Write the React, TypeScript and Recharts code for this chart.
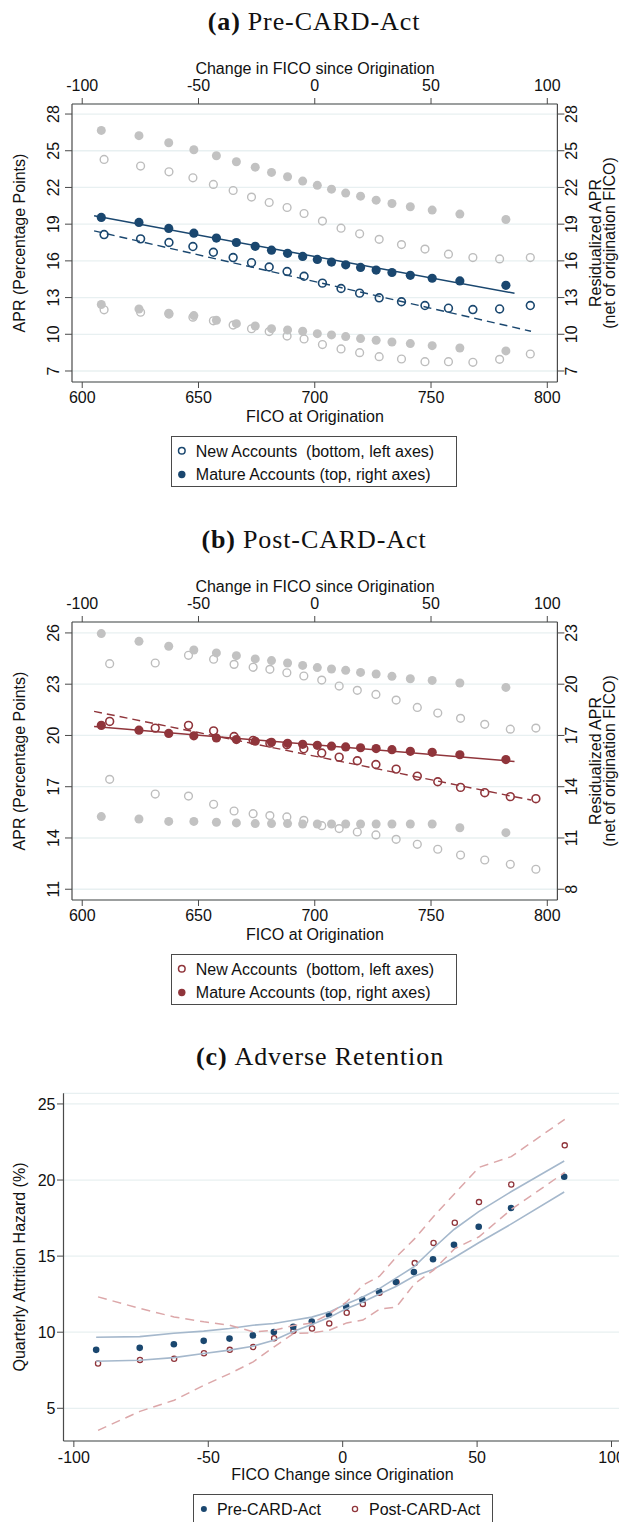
import React from "react";
import { ScatterChart, Scatter, XAxis, YAxis, CartesianGrid, Label } from "recharts";

// ---- (a) Pre-CARD-Act ----
const A_NEW_FICO = [609.4, 625.1, 637.3, 647.6, 656.4, 664.9, 672.8, 680.4, 688.1, 695.4, 703.3, 711.3, 719.3, 727.7, 737.3, 747.4, 757.5, 768, 779.5, 792.7];
const A_NEW_APR = [18.15, 17.8, 17.5, 17.17, 16.7, 16.27, 15.85, 15.5, 15.13, 14.74, 14.18, 13.74, 13.36, 12.98, 12.66, 12.35, 12.13, 12.02, 12.07, 12.35];
const A_NEW_HI = [24.29, 23.75, 23.28, 22.79, 22.25, 21.75, 21.21, 20.77, 20.36, 19.87, 19.25, 18.67, 18.21, 17.76, 17.33, 16.96, 16.55, 16.27, 16.16, 16.27];
const A_NEW_LO = [12.0, 11.8, 11.65, 11.4, 11.1, 10.75, 10.45, 10.22, 9.85, 9.62, 9.16, 8.8, 8.5, 8.17, 7.98, 7.76, 7.76, 7.71, 7.95, 8.39];
const A_NEW_FIT_FICO = [605.1, 793];
const A_NEW_FIT_APR = [18.45, 10.25];

const MAT_CHG = [-91.8, -75.6, -62.8, -52, -42.3, -33.7, -25.6, -18.6, -11.7, -5.2, 1.1, 7.2, 13.3, 19.7, 26.4, 33.2, 41.1, 50.5, 62.4, 82.2];
const A_MAT_APR = [19.55, 19.14, 18.65, 18.26, 17.86, 17.5, 17.19, 16.87, 16.62, 16.36, 16.12, 15.9, 15.68, 15.46, 15.25, 15.05, 14.82, 14.58, 14.36, 14.0];
const A_MAT_HI = [26.66, 26.23, 25.65, 25.08, 24.59, 24.1, 23.66, 23.23, 22.87, 22.52, 22.17, 21.86, 21.54, 21.29, 20.96, 20.69, 20.42, 20.15, 19.82, 19.38];
const A_MAT_LO = [12.43, 12.07, 11.72, 11.53, 11.15, 10.87, 10.68, 10.46, 10.36, 10.25, 10.05, 9.95, 9.81, 9.65, 9.51, 9.37, 9.24, 9.07, 8.88, 8.64];
const MAT_FIT_CHG = [-94.9, 85.9];
const A_MAT_FIT_APR = [19.68, 13.35];

// ---- (b) Post-CARD-Act ----
const B_NEW_FICO = [611.8, 631.4, 645.7, 656.5, 665.3, 673.5, 680.7, 688, 695.3, 703, 710.5, 718.3, 726.3, 735, 744.1, 752.9, 762.7, 773.1, 784.1, 795.1];
const B_NEW_APR = [20.82, 20.43, 20.59, 20.27, 19.94, 19.71, 19.55, 19.46, 19.22, 18.97, 18.73, 18.52, 18.3, 18.03, 17.62, 17.29, 16.96, 16.65, 16.42, 16.3];
const B_NEW_HI = [24.2, 24.24, 24.69, 24.46, 24.16, 23.99, 23.87, 23.67, 23.48, 23.24, 22.89, 22.64, 22.4, 22.07, 21.64, 21.31, 21.0, 20.65, 20.37, 20.43];
const B_NEW_LO = [17.43, 16.57, 16.45, 15.97, 15.58, 15.42, 15.31, 15.23, 15.03, 14.72, 14.55, 14.35, 14.18, 13.92, 13.63, 13.34, 13.0, 12.71, 12.46, 12.17];
const B_NEW_FIT_FICO = [605.1, 793];
const B_NEW_FIT_APR = [21.41, 16.22];

const B_MAT_APR = [17.59, 17.31, 17.12, 16.98, 16.85, 16.76, 16.66, 16.6, 16.54, 16.48, 16.42, 16.37, 16.33, 16.28, 16.23, 16.17, 16.07, 16.01, 15.87, 15.59];
const B_MAT_HI = [22.96, 22.51, 22.22, 22.0, 21.83, 21.67, 21.48, 21.38, 21.24, 21.1, 20.97, 20.89, 20.81, 20.69, 20.6, 20.46, 20.32, 20.22, 20.07, 19.81];
const B_MAT_LO = [12.25, 12.11, 11.97, 11.97, 11.92, 11.88, 11.84, 11.84, 11.84, 11.82, 11.82, 11.82, 11.82, 11.82, 11.82, 11.82, 11.82, 11.82, 11.6, 11.31];
const B_MAT_FIT_APR = [17.53, 15.48];

// ---- (c) Adverse Retention ----
const C_PRE_CHG = [-91.7, -75.5, -62.8, -51.7, -42.1, -33.4, -25.6, -18.4, -11.5, -5.1, 1.3, 7.3, 13.5, 19.8, 26.5, 33.6, 41.4, 50.6, 62.6, 82.4];
const C_PRE_HAZ = [8.84, 8.97, 9.21, 9.43, 9.58, 9.79, 10.01, 10.36, 10.7, 11.15, 11.68, 12.13, 12.68, 13.3, 13.95, 14.79, 15.75, 16.93, 18.16, 20.22];
const C_PRE_HI = [9.67, 9.71, 9.93, 10.07, 10.24, 10.46, 10.57, 10.79, 10.99, 11.32, 11.85, 12.3, 12.85, 13.55, 14.3, 15.5, 16.75, 17.92, 19.23, 21.25];
const C_PRE_LO = [8.09, 8.16, 8.33, 8.6, 8.82, 9.08, 9.47, 10.04, 10.5, 10.96, 11.54, 11.97, 12.5, 13.0, 13.68, 14.12, 14.89, 15.88, 17.1, 19.21];

const C_POST_CHG = [-91.0, -75.4, -62.7, -51.6, -42.0, -33.3, -25.5, -18.3, -11.4, -5.0, 1.5, 7.5, 13.7, 20.0, 26.8, 33.8, 41.7, 50.7, 62.7, 82.6];
const C_POST_HAZ = [7.94, 8.18, 8.25, 8.62, 8.84, 9.02, 9.61, 10.09, 10.24, 10.58, 11.28, 11.86, 12.59, 13.29, 14.54, 15.87, 17.19, 18.55, 19.71, 22.28];
const C_POST_HI = [12.32, 11.56, 11.0, 10.68, 10.46, 10.02, 10.13, 10.44, 10.61, 11.2, 12.0, 13.09, 13.68, 14.96, 16.15, 17.6, 19.12, 20.83, 21.54, 23.99];
const C_POST_LO = [3.55, 4.8, 5.53, 6.51, 7.28, 8.05, 9.04, 9.91, 9.96, 10.13, 10.61, 10.8, 11.51, 11.66, 13.2, 14.08, 15.5, 16.27, 18.07, 20.5];

const FICO_TICKS = [600, 650, 700, 750, 800];
const CHG_TICKS = [-100, -50, 0, 50, 100];
const A_APR_TICKS = [7, 10, 13, 16, 19, 22, 25, 28];
const B_LEFT_TICKS = [11, 14, 17, 20, 23, 26];
const B_RIGHT_TICKS = [8, 11, 14, 17, 20, 23];
const C_HAZ_TICKS = [5, 10, 15, 20, 25];

const NAVY = "#1a476f";
const MAROON = "#90353b";
const GRAY_FILL = "#c2c2c2";
const GRAY_RING = "#bdbdbd";
const BAND_BLUE = "#a5b8cc";
const BAND_RED = "#dca7a9";
const GRID = "#e8f0f1";
const AXIS = "#4a4a4a";
const INK = "#111";
const SANS = "'Liberation Sans', Arial, sans-serif";
const SERIF = "'Liberation Serif', 'Times New Roman', serif";

type Pt = { x: number; y: number };
const pts = (xs: number[], ys: number[]): Pt[] => xs.map((x, i) => ({ x, y: ys[i] }));

const dot = (r: number, fill: string) => (p: any) => <circle cx={p.cx} cy={p.cy} r={r} fill={fill} />;
const ring = (r: number, stroke: string, w: number) => (p: any) => (
  <circle cx={p.cx} cy={p.cy} r={r} fill="none" stroke={stroke} strokeWidth={w} />
);
const noMark = () => <g />;

// horizontal tick label with a fixed baseline
const hTick = (by: number) => (p: any) => (
  <text x={p.x} y={by} textAnchor="middle" fontSize={16} fontFamily={SANS} fill={INK}>
    {p.payload.value}
  </text>
);
// vertical (rotated) tick label, bx is the baseline x
const vTick = (bx: number) => (p: any) => (
  <text x={bx} y={p.y} transform={`rotate(-90 ${bx} ${p.y})`} textAnchor="middle" fontSize={16} fontFamily={SANS} fill={INK}>
    {p.payload.value}
  </text>
);
const yTickRight = (ex: number) => (p: any) => (
  <text x={ex} y={p.y + 5.75} textAnchor="end" fontSize={16} fontFamily={SANS} fill={INK}>
    {p.payload.value}
  </text>
);
const vText = (bx: number, cy: number, s: string) => (
  <text x={bx} y={cy} transform={`rotate(-90 ${bx} ${cy})`} textAnchor="middle" fontSize={16} fontFamily={SANS} fill={INK}>
    {s}
  </text>
);
const hText = (cx: number, by: number, s: string) => (
  <text x={cx} y={by} textAnchor="middle" fontSize={16} fontFamily={SANS} fill={INK}>
    {s}
  </text>
);

type DualProps = {
  color: string;
  leftDomain: [number, number];
  rightDomain: [number, number];
  leftTicks: number[];
  rightTicks: number[];
  newPts: Pt[];
  newHi: Pt[];
  newLo: Pt[];
  newFit: Pt[];
  matPts: Pt[];
  matHi: Pt[];
  matLo: Pt[];
  matFit: Pt[];
};

const AXIS_LINE = { stroke: AXIS, strokeWidth: 1.2 };
const TICK_LINE = { stroke: AXIS, strokeWidth: 1 };

function DualPanel(p: DualProps) {
  const midY = 203;
  return (
    <ScatterChart width={619} height={392} margin={{ top: 0, right: 0, bottom: 0, left: 0 }}>
      <CartesianGrid vertical={false} stroke={GRID} strokeWidth={1.3} xAxisId="bottom" yAxisId="left" />
      <XAxis xAxisId="bottom" orientation="bottom" dataKey="x" type="number" domain={[595.6, 804.35]} allowDataOverflow
        ticks={FICO_TICKS} interval={0} height={50} axisLine={AXIS_LINE} tickLine={TICK_LINE} tickSize={6} tick={hTick(363)}>
        <Label content={() => hText(315, 381.5, "FICO at Origination")} />
      </XAxis>
      <XAxis xAxisId="top" orientation="top" dataKey="x" type="number" domain={[-104.4, 104.35]} allowDataOverflow
        ticks={CHG_TICKS} interval={0} height={64} axisLine={AXIS_LINE} tickLine={TICK_LINE} tickSize={6} tick={hTick(51)}>
        <Label content={() => hText(315, 33.5, "Change in FICO since Origination")} />
      </XAxis>
      <YAxis yAxisId="left" dataKey="y" type="number" domain={p.leftDomain} allowDataOverflow ticks={p.leftTicks} interval={0}
        width={72} axisLine={AXIS_LINE} tickLine={TICK_LINE} tickSize={7} tick={vTick(59.3)}>
        <Label content={() => vText(24.5, midY, "APR (Percentage Points)")} />
      </YAxis>
      <YAxis yAxisId="right" orientation="right" dataKey="y" type="number" domain={p.rightDomain} allowDataOverflow ticks={p.rightTicks}
        interval={0} width={61.6} axisLine={AXIS_LINE} tickLine={TICK_LINE} tickSize={7} tick={vTick(577.2)}>
        <Label content={() => (
          <g>
            {vText(600.5, midY, "Residualized APR")}
            {vText(615, midY, "(net of origination FICO)")}
          </g>
        )} />
      </YAxis>

      <Scatter xAxisId="bottom" yAxisId="left" data={p.newHi} shape={ring(3.9, GRAY_RING, 1.4)} isAnimationActive={false} />
      <Scatter xAxisId="bottom" yAxisId="left" data={p.newLo} shape={ring(3.9, GRAY_RING, 1.4)} isAnimationActive={false} />
      <Scatter xAxisId="top" yAxisId="right" data={p.matHi} shape={dot(4.5, GRAY_FILL)} isAnimationActive={false} />
      <Scatter xAxisId="top" yAxisId="right" data={p.matLo} shape={dot(4.5, GRAY_FILL)} isAnimationActive={false} />

      <Scatter xAxisId="bottom" yAxisId="left" data={p.newFit} shape={noMark}
        line={{ stroke: p.color, strokeWidth: 1.4, strokeDasharray: "8 5" }} isAnimationActive={false} />
      <Scatter xAxisId="top" yAxisId="right" data={p.matFit} shape={noMark}
        line={{ stroke: p.color, strokeWidth: 1.5 }} isAnimationActive={false} />

      <Scatter xAxisId="bottom" yAxisId="left" data={p.newPts} shape={ring(3.9, p.color, 1.6)} isAnimationActive={false} />
      <Scatter xAxisId="top" yAxisId="right" data={p.matPts} shape={dot(4.6, p.color)} isAnimationActive={false} />
    </ScatterChart>
  );
}

function RetentionPanel() {
  return (
    <ScatterChart width={624} height={411} margin={{ top: 13.3, right: 2, bottom: 0, left: 0 }}>
      <CartesianGrid vertical={false} stroke={GRID} strokeWidth={1.3} />
      <XAxis dataKey="x" type="number" domain={[-103.85, 103.9]} allowDataOverflow ticks={CHG_TICKS} interval={0} height={50}
        axisLine={AXIS_LINE} tickLine={TICK_LINE} tickSize={6} tick={hTick(382.5)}>
        <Label content={() => hText(342.5, 399.8, "FICO Change since Origination")} />
      </XAxis>
      <YAxis dataKey="y" type="number" domain={[2.85, 25.7]} allowDataOverflow ticks={C_HAZ_TICKS} interval={0} width={63.5}
        axisLine={AXIS_LINE} tickLine={TICK_LINE} tickSize={6.5} tick={yTickRight(55.5)}>
        <Label content={() => vText(24.5, 187, "Quarterly Attrition Hazard (%)")} />
      </YAxis>

      <Scatter data={pts(C_POST_CHG, C_POST_HAZ)} shape={ring(2.6, MAROON, 1.3)} isAnimationActive={false} />
      <Scatter data={pts(C_PRE_CHG, C_PRE_HAZ)} shape={dot(3.3, NAVY)} isAnimationActive={false} />

      <Scatter data={pts(C_PRE_CHG, C_PRE_HI)} shape={noMark} line={{ stroke: BAND_BLUE, strokeWidth: 1.6 }} isAnimationActive={false} />
      <Scatter data={pts(C_PRE_CHG, C_PRE_LO)} shape={noMark} line={{ stroke: BAND_BLUE, strokeWidth: 1.6 }} isAnimationActive={false} />
      <Scatter data={pts(C_POST_CHG, C_POST_HI)} shape={noMark}
        line={{ stroke: BAND_RED, strokeWidth: 1.5, strokeDasharray: "9 6" }} isAnimationActive={false} />
      <Scatter data={pts(C_POST_CHG, C_POST_LO)} shape={noMark}
        line={{ stroke: BAND_RED, strokeWidth: 1.5, strokeDasharray: "9 6" }} isAnimationActive={false} />
    </ScatterChart>
  );
}

function PanelTitle({ top, tag, text, cx }: { top: number; tag: string; text: string; cx: number }) {
  return (
    <svg style={{ position: "absolute", left: 0, top }} width={619} height={40}>
      <text x={cx} y={30} textAnchor="middle" fontFamily={SERIF} fontSize={26} letterSpacing={0.9} fill={INK}>
        <tspan fontWeight="bold">{tag}</tspan>
        <tspan dx={7}>{text}</tspan>
      </text>
    </svg>
  );
}

function AccountsLegend({ top, color }: { top: number; color: string }) {
  return (
    <div style={{ position: "absolute", left: 170.7, top, width: 286, height: 51.3, border: `1px solid ${AXIS}`, boxSizing: "border-box" }}>
      <svg width={284} height={50} style={{ display: "block" }}>
        <circle cx={9.8} cy={13.8} r={3.3} fill="none" stroke={color} strokeWidth={1.5} />
        <text x={23.8} y={19.5} fontSize={16} fontFamily={SANS} fill={INK} style={{ whiteSpace: "pre" }}>
          {"New Accounts  (bottom, left axes)"}
        </text>
        <circle cx={9.8} cy={37.5} r={3.7} fill={color} />
        <text x={23.8} y={43.2} fontSize={16} fontFamily={SANS} fill={INK}>
          Mature Accounts (top, right axes)
        </text>
      </svg>
    </div>
  );
}

function RetentionLegend() {
  return (
    <div style={{ position: "absolute", left: 193.3, top: 1494, width: 300, height: 40, border: `1px solid ${AXIS}`, boxSizing: "border-box" }}>
      <svg width={298} height={38} style={{ display: "block" }}>
        <circle cx={9.9} cy={14} r={3} fill={NAVY} />
        <text x={22.9} y={19.7} fontSize={16} fontFamily={SANS} fill={INK}>Pre-CARD-Act</text>
        <circle cx={161} cy={14} r={2.6} fill="none" stroke={MAROON} strokeWidth={1.3} />
        <text x={175} y={19.7} fontSize={16} fontFamily={SANS} fill={INK}>Post-CARD-Act</text>
      </svg>
    </div>
  );
}

export default function App() {
  return (
    <div style={{ position: "absolute", left: 0, top: 0, width: 619, height: 1522, overflow: "hidden", background: "#fff" }}>
      <PanelTitle top={0} tag="(a)" text="Pre-CARD-Act" cx={314} />
      <div style={{ position: "absolute", left: 0, top: 40 }}>
        <DualPanel
          color={NAVY}
          leftDomain={[6.1, 28.82]}
          rightDomain={[6.1, 28.82]}
          leftTicks={A_APR_TICKS}
          rightTicks={A_APR_TICKS}
          newPts={pts(A_NEW_FICO, A_NEW_APR)}
          newHi={pts(A_NEW_FICO, A_NEW_HI)}
          newLo={pts(A_NEW_FICO, A_NEW_LO)}
          newFit={pts(A_NEW_FIT_FICO, A_NEW_FIT_APR)}
          matPts={pts(MAT_CHG, A_MAT_APR)}
          matHi={pts(MAT_CHG, A_MAT_HI)}
          matLo={pts(MAT_CHG, A_MAT_LO)}
          matFit={pts(MAT_FIT_CHG, A_MAT_FIT_APR)}
        />
      </div>
      <AccountsLegend top={435.7} color={NAVY} />

      <PanelTitle top={518} tag="(b)" text="Post-CARD-Act" cx={314} />
      <div style={{ position: "absolute", left: 0, top: 558 }}>
        <DualPanel
          color={MAROON}
          leftDomain={[10.37, 26.64]}
          rightDomain={[7.37, 23.64]}
          leftTicks={B_LEFT_TICKS}
          rightTicks={B_RIGHT_TICKS}
          newPts={pts(B_NEW_FICO, B_NEW_APR)}
          newHi={pts(B_NEW_FICO, B_NEW_HI)}
          newLo={pts(B_NEW_FICO, B_NEW_LO)}
          newFit={pts(B_NEW_FIT_FICO, B_NEW_FIT_APR)}
          matPts={pts(MAT_CHG, B_MAT_APR)}
          matHi={pts(MAT_CHG, B_MAT_HI)}
          matLo={pts(MAT_CHG, B_MAT_LO)}
          matFit={pts(MAT_FIT_CHG, B_MAT_FIT_APR)}
        />
      </div>
      <AccountsLegend top={953.5} color={MAROON} />

      <PanelTitle top={1035} tag="(c)" text="Adverse Retention" cx={320} />
      <div style={{ position: "absolute", left: 0, top: 1080 }}>
        <RetentionPanel />
      </div>
      <RetentionLegend />
    </div>
  );
}
